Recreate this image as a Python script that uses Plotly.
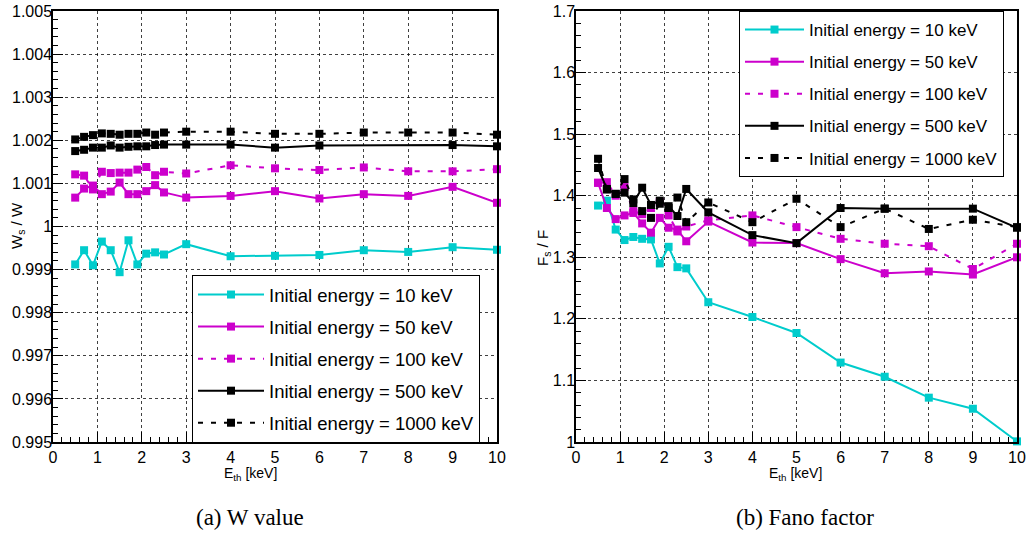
import plotly.graph_objects as go

W, H = 1029, 539

# ---------------- data ----------------
e_th = [0.5, 0.7, 0.9, 1.1, 1.3, 1.5, 1.7, 1.9, 2.1, 2.3, 2.5, 3, 4, 5, 6, 7, 8, 9, 10]
series_names = ["Initial energy = 10 keV", "Initial energy = 50 keV", "Initial energy = 100 keV",
                "Initial energy = 500 keV", "Initial energy = 1000 keV"]

w10 = [0.99912, 0.99945, 0.99910, 0.99965, 0.99945, 0.99894, 0.99968, 0.99912, 0.99937, 0.99940,
       0.99935, 0.99959, 0.99931, 0.99932, 0.99934, 0.99945, 0.99941, 0.99952, 0.99946]
w50 = [1.00067, 1.00088, 1.00095, 1.00075, 1.00081, 1.00102, 1.00075, 1.00075, 1.00082, 1.00096,
       1.00079, 1.00067, 1.00071, 1.00082, 1.00065, 1.00075, 1.00071, 1.00092, 1.00055]
w100 = [1.00121, 1.00118, 1.00086, 1.00127, 1.00124, 1.00125, 1.00125, 1.00132, 1.00138, 1.00119,
        1.00127, 1.00123, 1.00142, 1.00135, 1.00131, 1.00137, 1.00128, 1.00128, 1.00133]
w500 = [1.00175, 1.00178, 1.00183, 1.00183, 1.00188, 1.00183, 1.00185, 1.00186, 1.00186, 1.00189,
        1.00190, 1.00190, 1.00190, 1.00183, 1.00188, None, None, 1.00189, 1.00186]
w1000 = [1.00202, 1.00208, 1.00212, 1.00216, 1.00215, 1.00213, 1.00215, 1.00215, 1.00218, 1.00213,
         1.00218, 1.00220, 1.00220, 1.00215, 1.00215, 1.00218, 1.00218, 1.00218, 1.00213]

f10 = [1.384, 1.392, 1.345, 1.328, 1.333, 1.330, 1.329, 1.290, 1.317, 1.284, 1.282,
       1.227, 1.203, 1.177, 1.129, 1.106, 1.072, 1.054, 1.001]
f50 = [1.421, 1.380, 1.362, 1.368, 1.372, 1.355, 1.340, 1.364, 1.348, 1.345, 1.326,
       1.358, 1.324, 1.323, 1.297, 1.274, 1.277, 1.272, 1.300]
f100 = [1.421, 1.422, 1.400, 1.414, 1.375, 1.370, 1.380, 1.390, 1.368, 1.342, 1.350,
        1.360, 1.368, 1.349, 1.330, 1.322, 1.318, 1.281, 1.322]
f500 = [1.445, 1.411, 1.403, 1.405, 1.388, 1.413, 1.385, 1.392, 1.383, 1.367, 1.411,
        1.373, 1.336, 1.323, 1.380, 1.379, None, 1.379, 1.348]
f1000 = [1.460, 1.410, 1.403, 1.427, 1.394, 1.375, 1.364, 1.387, 1.380, 1.397, 1.357,
         1.389, 1.357, 1.395, 1.349, 1.379, 1.346, 1.361, 1.349]

# ---------------- style ----------------
TEAL = "rgb(0,204,204)"
MAG = "rgb(204,0,204)"
BLK = "black"
colors = [TEAL, MAG, MAG, BLK, BLK]
dashes = ["solid", "solid", "5px,8px", "solid", "5px,8px"]
FONT = "Liberation Sans, Arial, Helvetica, sans-serif"

fig = go.Figure()

w_sets = [w10, w50, w100, w500, w1000]
f_sets = [f10, f50, f100, f500, f1000]

for i, (name, ys) in enumerate(zip(series_names, w_sets)):
    fig.add_trace(go.Scatter(
        x=e_th, y=ys, name=name, mode="lines+markers", connectgaps=True,
        line=dict(color=colors[i], width=2, dash=dashes[i]),
        marker=dict(symbol="square", size=8, color=colors[i]),
        xaxis="x", yaxis="y", legend="legend", legendgroup="a%d" % i,
        cliponaxis=False))

for i, (name, ys) in enumerate(zip(series_names, f_sets)):
    fig.add_trace(go.Scatter(
        x=e_th, y=ys, name=name, mode="lines+markers", connectgaps=True,
        line=dict(color=colors[i], width=2, dash=dashes[i]),
        marker=dict(symbol="square", size=8, color=colors[i]),
        xaxis="x2", yaxis="y2", legend="legend2", legendgroup="b%d" % i,
        cliponaxis=False))


def px_x(p):
    return p / W


def px_y(p):
    return 1 - p / H


def xaxis_style(domain, anchor):
    return dict(
        domain=domain, anchor=anchor, range=[0, 10], tickmode="linear", tick0=0, dtick=1,
        ticks="inside", ticklen=10, tickwidth=1, tickcolor="black",
        minor=dict(ticks="inside", ticklen=5, tickcolor="black", dtick=0.2, tick0=0, showgrid=False),
        showgrid=True, gridcolor="rgba(0,0,0,0.75)", griddash="dot", gridwidth=1,
        showline=True, linecolor="black", linewidth=1.5, mirror=True,
        zeroline=False, tickfont=dict(family=FONT, size=16, color="black"),
        ticklabelstandoff=0, ticklabeloverflow="allow", automargin=False)


def yaxis_style(domain, anchor, rng, dtick, mdtick, fmt):
    return dict(
        domain=domain, anchor=anchor, range=rng, tickmode="linear", tick0=rng[0], dtick=dtick,
        tickformat=fmt, ticks="inside", ticklen=10, tickwidth=1, tickcolor="black",
        minor=dict(ticks="inside", ticklen=5, tickcolor="black", dtick=mdtick, tick0=rng[0], showgrid=False),
        showgrid=True, gridcolor="rgba(0,0,0,0.75)", griddash="dot", gridwidth=1,
        showline=True, linecolor="black", linewidth=1.5, mirror=True,
        zeroline=False, tickfont=dict(family=FONT, size=16, color="black"),
        ticklabelstandoff=-4, ticklabeloverflow="allow", automargin=False)


ydom = [px_y(442), px_y(11)]
legend_common = dict(
    bgcolor="white", bordercolor="black", borderwidth=1,
    xanchor="left", yanchor="top", traceorder="grouped")

fig.update_layout(
    width=W, height=H,
    margin=dict(l=0, r=0, t=0, b=0),
    paper_bgcolor="white", plot_bgcolor="white",
    showlegend=True,
    xaxis=xaxis_style([px_x(53), px_x(497)], "y"),
    yaxis=yaxis_style(ydom, "x", [0.995, 1.005], 0.001, 0.0002, ".3~f"),
    xaxis2=xaxis_style([px_x(576), px_x(1017)], "y2"),
    yaxis2=yaxis_style(ydom, "x2", [1.0, 1.7], 0.1, 0.02, ".1~f"),
    legend=dict(x=px_x(192), y=px_y(275), tracegroupgap=5, itemwidth=66,
                font=dict(family=FONT, size=18.5, color="black"), **legend_common),
    legend2=dict(x=px_x(739), y=px_y(11), tracegroupgap=7, itemwidth=59,
                 font=dict(family=FONT, size=17, color="black"), **legend_common),
)

annots = [
    dict(text="E<sub>th</sub> [keV]", x=px_x(250), y=px_y(474), size=14, angle=0, family=FONT),
    dict(text="E<sub>th</sub> [keV]", x=px_x(795), y=px_y(474), size=14, angle=0, family=FONT),
    dict(text="W<sub>s</sub> / W", x=px_x(17), y=px_y(226), size=15, angle=-90, family=FONT),
    dict(text="F<sub>s</sub> / F", x=px_x(543), y=px_y(248), size=15, angle=-90, family=FONT),
    dict(text="(a) W value", x=px_x(250), y=px_y(517), size=23, angle=0,
         family="Liberation Serif, Times New Roman, serif"),
    dict(text="(b) Fano factor", x=px_x(805), y=px_y(517), size=23, angle=0,
         family="Liberation Serif, Times New Roman, serif"),
]
for a in annots:
    fig.add_annotation(text=a["text"], x=a["x"], y=a["y"], xref="paper", yref="paper",
                       showarrow=False, textangle=a["angle"], xanchor="center", yanchor="middle",
                       font=dict(family=a["family"], size=a["size"], color="black"))

# remove the default 8px page margin so the figure fills the 1029x539 window exactly
fig.write_html("out.html",
               config={"displayModeBar": False},
               post_script="document.body.style.margin='0';document.body.style.overflow='hidden';")
